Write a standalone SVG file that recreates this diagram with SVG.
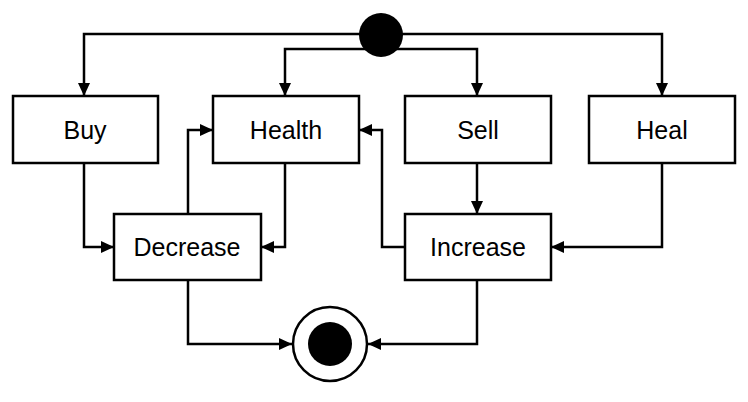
<svg xmlns="http://www.w3.org/2000/svg" width="748" height="402" viewBox="0 0 748 402">
<style>
.box{fill:#fff;stroke:#000;stroke-width:2.5}
.lbl{font-family:"Liberation Sans",Arial,sans-serif;font-size:25px;fill:#000;text-anchor:middle}
.edge{fill:none;stroke:#000;stroke-width:2.5;marker-end:url(#arr)}
</style>
<defs>
<marker id="arr" markerUnits="userSpaceOnUse" markerWidth="14" markerHeight="12" refX="13" refY="6" orient="auto" viewBox="0 0 14 12">
<path d="M0,0 L13,6 L0,12 Z" fill="#000"/>
</marker>
</defs>
<rect width="748" height="402" fill="#fff"/>
<g id="connectors">
<path class="edge" d="M360,34 H84 V96"/>
<path class="edge" d="M370,49 H285 V96"/>
<path class="edge" d="M400,34 H662 V96"/>
<path class="edge" d="M392,49 H477 V96"/>
<path class="edge" d="M84,164 V247 H114"/>
<path class="edge" d="M285,164 V247 H261"/>
<path class="edge" d="M188,214 V130 H213"/>
<path class="edge" d="M188,280 V344 H292"/>
<path class="edge" d="M477,164 V214"/>
<path class="edge" d="M405,247 H382 V130 H359"/>
<path class="edge" d="M662,164 V247 H551"/>
<path class="edge" d="M477,280 V344 H368"/>
</g>
<g id="start"><circle cx="381" cy="35" r="22" fill="#000"/></g>
<g id="buy"><rect class="box" x="13" y="96" width="145" height="67"/><text class="lbl" x="85" y="138.5">Buy</text></g>
<g id="health"><rect class="box" x="213" y="96" width="146" height="67"/><text class="lbl" x="286" y="138.5">Health</text></g>
<g id="sell"><rect class="box" x="405" y="96" width="146" height="67"/><text class="lbl" x="478" y="138.5">Sell</text></g>
<g id="heal"><rect class="box" x="589" y="96" width="146" height="67"/><text class="lbl" x="662" y="138.5">Heal</text></g>
<g id="decrease"><rect class="box" x="114" y="214" width="147" height="66"/><text class="lbl" x="187" y="256">Decrease</text></g>
<g id="increase"><rect class="box" x="405" y="214" width="146" height="66"/><text class="lbl" x="478" y="256">Increase</text></g>
<g id="end"><circle cx="330" cy="344" r="37" fill="#fff" stroke="#000" stroke-width="2.5"/><circle cx="330" cy="344" r="22" fill="#000"/></g>
</svg>
